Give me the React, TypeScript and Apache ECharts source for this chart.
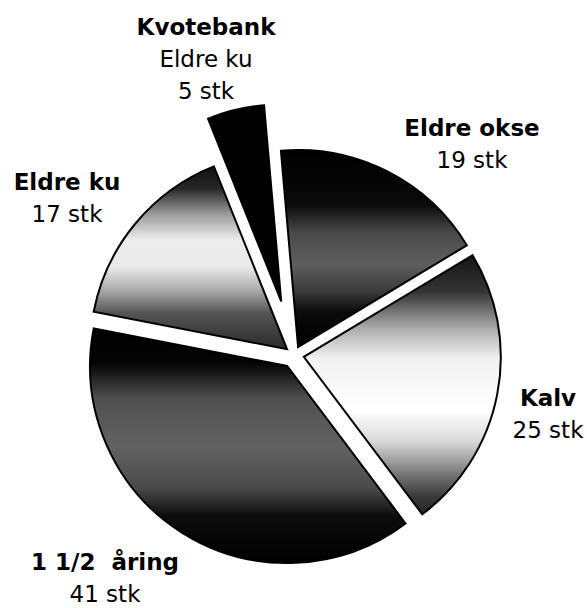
import React, { useEffect, useRef } from "react";
import * as echarts from "echarts";

// ---- data ----
const CATEGORIES = ["Eldre okse", "Kalv", "1 1/2  åring", "Eldre ku", "Kvotebank"];
const SUBTITLES = ["", "", "", "", "Eldre ku"];
const VALUES = [19, 25, 41, 17, 5];
const UNIT = "stk";

// ---- styles ----
const GRADIENTS: [number, string][][] = [
  [[0, "#000"], [0.28, "#0a0a0a"], [0.42, "#4a4a4a"], [0.58, "#5e5e5e"], [0.72, "#3a3a3a"], [0.82, "#0a0a0a"], [1, "#000"]],
  [[0, "#151515"], [0.14, "#333"], [0.28, "#aaa"], [0.4, "#f2f2f2"], [0.6, "#fff"], [0.72, "#d8d8d8"], [0.84, "#7a7a7a"], [0.93, "#3a3a3a"], [1, "#222"]],
  [[0, "#000"], [0.15, "#050505"], [0.3, "#505050"], [0.5, "#626262"], [0.68, "#4a4a4a"], [0.8, "#0c0c0c"], [1, "#000"]],
  [[0, "#111"], [0.12, "#262626"], [0.26, "#9a9a9a"], [0.4, "#ececec"], [0.55, "#eaeaea"], [0.68, "#a8a8a8"], [0.8, "#555"], [1, "#2a2a2a"]],
  [[0, "#000"], [1, "#000"]],
];
const OFFSETS = [9, 10, 13, 9, 55];
const LABEL_POS: [number, number][] = [
  [472, 144],
  [548, 414],
  [105, 578],
  [67, 198],
  [206, 59],
];
const CENTER: [number, number] = [294, 355];
const RADIUS = 197;
const START_ANGLE = 95;
const FONT = "'DejaVu Sans', sans-serif";

export default function App() {
  const ref = useRef<HTMLDivElement>(null);
  useEffect(() => {
    const chart = echarts.init(ref.current as HTMLDivElement, null, { renderer: "svg" });
    const grad = (i: number) =>
      new echarts.graphic.LinearGradient(
        0, 0, 0, 1,
        GRADIENTS[i].map(([offset, color]) => ({ offset, color }))
      );
    const hidden = { color: "rgba(0,0,0,0)", borderWidth: 0 };

    const sliceSeries = VALUES.map((_, si) => ({
      type: "pie",
      center: CENTER,
      radius: RADIUS,
      startAngle: START_ANGLE,
      clockwise: true,
      silent: true,
      avoidLabelOverlap: false,
      selectedMode: "multiple",
      selectedOffset: OFFSETS[si],
      emphasis: { disabled: true },
      label: { show: false },
      labelLine: { show: false },
      data: VALUES.map((v, i) => {
        const style =
          i === si ? { color: grad(i), borderColor: "#000", borderWidth: 2, borderJoin: "miter" } : hidden;
        return {
          name: CATEGORIES[i],
          value: v,
          selected: true,
          itemStyle: style,
          select: { itemStyle: style },
        };
      }),
    }));

    const labelSeries = {
      type: "pie",
      center: CENTER,
      radius: RADIUS,
      startAngle: START_ANGLE,
      clockwise: true,
      silent: true,
      avoidLabelOverlap: false,
      emphasis: { disabled: true },
      itemStyle: hidden,
      labelLine: { show: false },
      label: {
        show: true,
        position: "outside",
        formatter: (p: any) => {
          const lines = [`{b|${p.name}}`];
          if (SUBTITLES[p.dataIndex]) lines.push(`{n|${SUBTITLES[p.dataIndex]}}`);
          lines.push(`{n|${p.value} ${UNIT}}`);
          return lines.join("\n");
        },
        rich: {
          b: { fontFamily: FONT, fontWeight: "bold", fontSize: 23, lineHeight: 32, color: "#000" },
          n: { fontFamily: FONT, fontSize: 23, lineHeight: 32, color: "#000" },
        },
      },
      labelLayout: (p: any) => ({
        x: LABEL_POS[p.dataIndex][0],
        y: LABEL_POS[p.dataIndex][1],
        align: "center",
        verticalAlign: "middle",
      }),
      data: VALUES.map((v, i) => ({ name: CATEGORIES[i], value: v })),
    };

    chart.setOption({
      animation: false,
      backgroundColor: "#fff",
      series: [...sliceSeries, labelSeries],
    });
    return () => chart.dispose();
  }, []);
  return (
    <div
      ref={ref}
      style={{ position: "fixed", left: 0, top: 0, width: 587, height: 608, background: "#fff" }}
    />
  );
}
